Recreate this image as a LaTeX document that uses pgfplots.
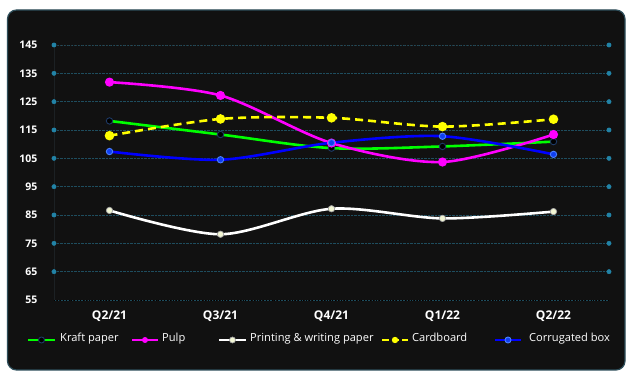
\documentclass[border=0pt]{standalone}
\usepackage{fontspec}
\setmainfont{Open Sans}
\usepackage{pgfplots}
\pgfplotsset{compat=1.18}

\definecolor{panel}{HTML}{111111}
\definecolor{paneledge}{HTML}{2E4E5A}
\definecolor{gridc}{HTML}{1E4D5E}
\definecolor{toprule}{HTML}{2A3A40}
\definecolor{leftrule}{HTML}{1C2124}
\definecolor{tickdot}{HTML}{2283A6}
\definecolor{baseline}{HTML}{1C9A78}
\definecolor{kraft}{HTML}{00FF00}
\definecolor{kraftedge}{HTML}{1E3A66}
\definecolor{pulp}{HTML}{FF00FF}
\definecolor{printc}{HTML}{FFFFFF}
\definecolor{printfill}{HTML}{F2F6D4}
\definecolor{card}{HTML}{FFFF00}
\definecolor{corr}{HTML}{0000FF}
\definecolor{corrfill}{HTML}{1040F0}
\definecolor{corredge}{HTML}{4A80FF}

\pgfplotstableread{
q  kraft  pulp   print  card   corr
0  118.2  131.9  86.6   113.0  107.4
1  113.4  127.2  78.2   118.9  104.5
2  108.6  110.4  87.2   119.3  110.5
3  109.2  103.7  83.8   116.2  112.8
4  110.9  113.4  86.2   118.8  106.4
}\prices

\begin{document}
\begin{tikzpicture}
\fill[white] (0pt,0pt) rectangle (626pt,371pt);
\useasboundingbox (0pt,0pt) rectangle (626pt,371pt);
\filldraw[fill=panel, draw=paneledge, line width=1.2pt, rounded corners=9pt]
  (7.5pt,1pt) rectangle (625pt,361pt);

\begin{axis}[
  at={(54pt,71pt)}, anchor=south west,
  scale only axis, width=555pt, height=255pt,
  xmin=-0.5, xmax=4.5, ymin=55, ymax=145,
  clip=false,
  axis line style={draw=none},
  xtick={0,1,2,3,4},
  xticklabels={Q2/21,Q3/21,Q4/21,Q1/22,Q2/22},
  ytick={55,65,...,145},
  major tick length=0pt,
  ymajorgrids,
  major grid style={gridc, densely dotted, line width=0.8pt},
  /pgf/number format/assume math mode=true,
  ticklabel style={text=white, font=\fontsize{10.5}{11}\selectfont\bfseries},
  xticklabel style={font=\fontsize{12}{13}\selectfont\bfseries, yshift=-7pt},
  yticklabel style={anchor=east, xshift=-13pt},
]
% rules framing the plot area
\draw[leftrule, line width=0.8pt] (axis cs:-0.5,55) -- (axis cs:-0.5,145);
\draw[baseline, dotted, line width=0.9pt] (axis cs:-0.5,55) -- (axis cs:4.5,55);
\draw[toprule, dotted, line width=0.8pt] (axis cs:-0.5,145) -- (axis cs:4.5,145);
% end dots of the value grid
\addplot[only marks, mark=*, mark size=2.2pt, mark options={fill=tickdot, draw=tickdot}]
  coordinates {(-0.5,65)(-0.5,75)(-0.5,85)(-0.5,95)(-0.5,105)(-0.5,115)(-0.5,125)(-0.5,135)(-0.5,145)
               (4.5,65)(4.5,75)(4.5,85)(4.5,95)(4.5,105)(4.5,115)(4.5,125)(4.5,135)(4.5,145)};

\addplot[kraft, smooth, tension=0.5, line width=2.6pt, mark=*, mark size=3.2pt,
  mark options={fill=black, draw=kraftedge, line width=0.9pt, solid}]
  table[x=q, y=kraft] {\prices};
\addplot[pulp, smooth, tension=0.5, line width=2.6pt, mark=*, mark size=3.2pt,
  mark options={fill=pulp, draw=pulp, solid}]
  table[x=q, y=pulp] {\prices};
\addplot[printc, smooth, tension=0.5, line width=2.6pt, mark=*, mark size=3.2pt,
  mark options={fill=printfill, draw=gray!70, line width=0.7pt, solid}]
  table[x=q, y=print] {\prices};
\addplot[card, smooth, tension=0.5, line width=2.6pt, dash pattern=on 8pt off 5pt, mark=*, mark size=3.4pt,
  mark options={fill=card, draw=card, solid}]
  table[x=q, y=card] {\prices};
\addplot[corr, smooth, tension=0.5, line width=2.6pt, mark=*, mark size=3.2pt,
  mark options={fill=corrfill, draw=corredge, line width=0.9pt, solid}]
  table[x=q, y=corr] {\prices};
\end{axis}

% legend row
\begin{scope}[every node/.style={text=white, font=\fontsize{11.1}{12}\selectfont, anchor=west, inner sep=0pt}]
  \draw[kraft, line width=2.6pt] (28pt,31pt) -- (55pt,31pt);
  \filldraw[fill=black, draw=kraftedge, line width=0.9pt] (41.5pt,31pt) circle (3pt);
  \node at (60pt,32pt) {Kraft paper};
  \draw[pulp, line width=2.6pt] (132pt,31pt) -- (158pt,31pt);
  \fill[pulp] (145pt,31pt) circle (3pt);
  \node at (162pt,32pt) {Pulp};
  \draw[printc, line width=2.6pt] (219pt,31pt) -- (246pt,31pt);
  \filldraw[fill=printfill, draw=gray!70, line width=0.7pt] (232.5pt,31pt) circle (3pt);
  \node at (250pt,32pt) {Printing \& writing paper};
  \draw[card, line width=2.6pt, dash pattern=on 7pt off 3pt] (382pt,31pt) -- (408pt,31pt);
  \fill[card] (395pt,31pt) circle (3.2pt);
  \node at (412pt,33.5pt) {Cardboard};
  \draw[corr, line width=2.6pt] (495pt,31pt) -- (521pt,31pt);
  \filldraw[fill=corrfill, draw=corredge, line width=0.9pt] (508pt,31pt) circle (3pt);
  \node at (529pt,32pt) {Corrugated box};
\end{scope}
\end{tikzpicture}
\end{document}
